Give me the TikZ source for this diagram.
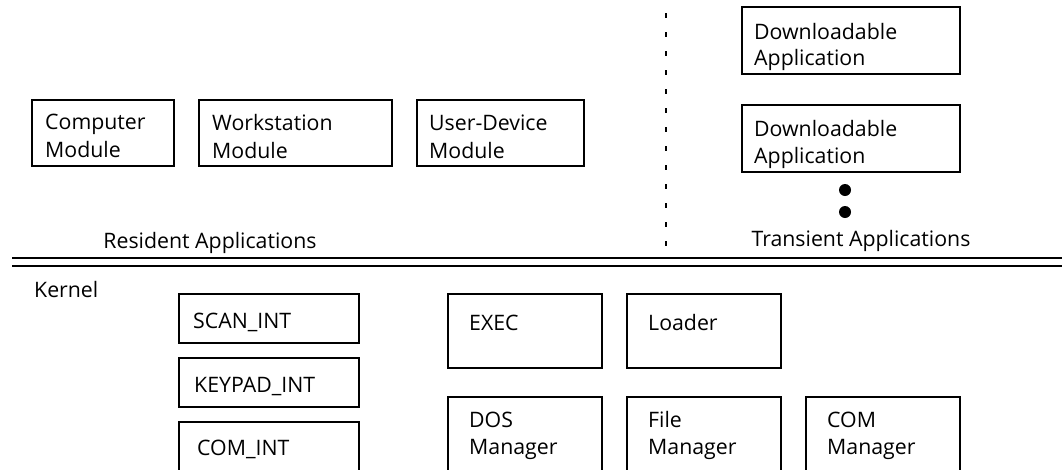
\documentclass[tikz,border=0pt]{standalone}
\usepackage{fontspec}
\setmainfont{Open Sans}
\begin{document}
\begin{tikzpicture}[x=1pt,y=-1pt,
  box/.style={draw, line width=1.5pt, inner sep=0pt, outer sep=0pt, anchor=north west},
  lbl/.style={anchor=base west, inner sep=0pt, font=\fontsize{21.3}{27}\selectfont},
  title/.style={anchor=base, inner sep=0pt, font=\fontsize{21.3}{27}\selectfont},
  rule/.style={line width=2.5pt},
  divider/.style={line width=1.1pt, dash pattern=on 4.5pt off 14.5pt},
  dot/.style={fill=black}
]
\useasboundingbox (0,0) rectangle (1062,469);
\clip (0,0) rectangle (1062,469);

% resident applications
\node[box, minimum width=142pt, minimum height=66pt] (cm) at (32,100) {};
\node[box, minimum width=193pt, minimum height=66pt] (ws) at (199,100) {};
\node[box, minimum width=167pt, minimum height=66pt] (ud) at (417,100) {};
\node[lbl] (cmA) at (45,129) {Computer};
\node[lbl] (cmB) at (45,157) {Module};
\node[lbl] (wsA) at (212,130) {Workstation};
\node[lbl] (wsB) at (212,158) {Module};
\node[lbl] (udA) at (429,130) {User-Device};
\node[lbl] (udB) at (429,158) {Module};
\node[title] (res) at (210,248) {Resident Applications};

% transient applications
\node[box, minimum width=218pt, minimum height=67pt] (da1) at (742,7) {};
\node[box, minimum width=218pt, minimum height=67pt] (da2) at (742,105) {};
\node[lbl] (da1A) at (754,39) {Downloadable};
\node[lbl] (da1B) at (754,65) {Application};
\node[lbl] (da2A) at (754,136) {Downloadable};
\node[lbl] (da2B) at (754,163) {Application};
\fill[dot] (845,190) circle (6pt);
\fill[dot] (845,212) circle (6pt);
\node[title] (tra) at (861,246) {Transient Applications};

% separators
\coordinate (dTop) at (666,13);
\coordinate (dBot) at (666,257);
\draw[divider] (dTop) -- (dBot);
\coordinate (r1L) at (12,258);
\coordinate (r1R) at (1062,258);
\coordinate (r2L) at (12,266);
\coordinate (r2R) at (1062,266);
\draw[rule] (r1L) -- (r1R);
\draw[rule] (r2L) -- (r2R);

% kernel
\node[lbl] (ker) at (34,297) {Kernel};
\node[box, minimum width=180pt, minimum height=49pt] (scan) at (179,294) {};
\node[box, minimum width=180pt, minimum height=49pt] (keypad) at (179,358) {};
\node[box, minimum width=180pt, minimum height=70pt] (comint) at (179,422) {};
\node[lbl] (scanT) at (193,328) {SCAN\_INT};
\node[lbl] (keypadT) at (194,392) {KEYPAD\_INT};
\node[lbl] (comintT) at (197,455) {COM\_INT};

\node[box, minimum width=154pt, minimum height=74pt] (exec) at (448,294) {};
\node[box, minimum width=154pt, minimum height=74pt] (loader) at (627,294) {};
\node[lbl] (execT) at (469,330) {EXEC};
\node[lbl] (loaderT) at (648,330) {Loader};

\node[box, minimum width=154pt, minimum height=95pt] (dos) at (448,397) {};
\node[box, minimum width=154pt, minimum height=95pt] (file) at (627,397) {};
\node[box, minimum width=154pt, minimum height=95pt] (comm) at (806,397) {};
\node[lbl] (dosA) at (469,427) {DOS};
\node[lbl] (dosB) at (469,454) {Manager};
\node[lbl] (fileA) at (648,427) {File};
\node[lbl] (fileB) at (648,454) {Manager};
\node[lbl] (commA) at (827,427) {COM};
\node[lbl] (commB) at (827,454) {Manager};
\end{tikzpicture}
\end{document}
